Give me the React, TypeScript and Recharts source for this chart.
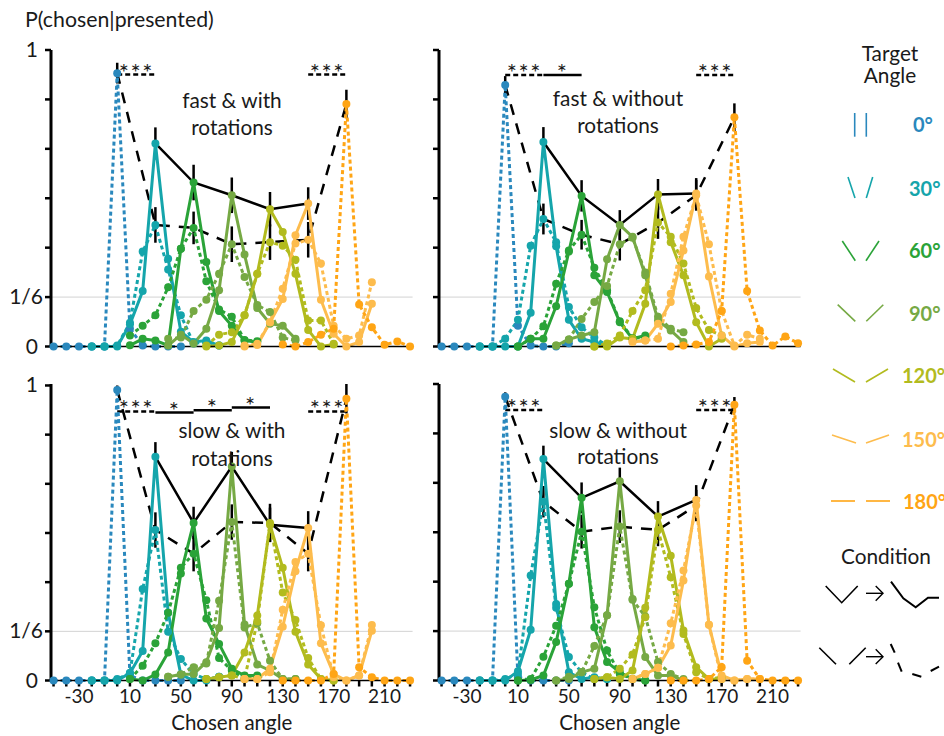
import React from "react";
import { ComposedChart, Line, XAxis, YAxis, ErrorBar, ReferenceLine } from "recharts";

const FONT = "Lato, 'Open Sans', sans-serif";
const targets = [0, 30, 60, 90, 120, 150, 180];
const colors: Record<number, string> = { 0: "#2a88bd", 30: "#15a5ab", 60: "#2aa338", 90: "#76a944", 120: "#b2bb1e", 150: "#fdbc4d", 180: "#ffa515" };
const xTicks = [-50,-40,-30,-20,-10,0,10,20,30,40,50,60,70,80,90,100,110,120,130,140,150,160,170,180,190,200,210,220,230];
const xLabels = [-30, 10, 50, 90, 130, 170, 210];
const yTicks = [0, 1/6, 2/6, 3/6, 4/6, 5/6, 1];

// Panel A: fast & with rotations (11 values per target, from target-50 to target+50)
const a0  = [0,0,0,0,0,.922,.06,.003,0,0,0];
const a30s = [0,0,0,.075,.187,.685,.296,.05,.015,.02,.003];
const a30d = [0,0,.003,.08,.32,.41,.26,.105,.01,.015,.003];
const a60s = [.004,.026,.02,.004,.33,.553,.285,.12,.07,.02,.015];
const a60d = [.037,.07,.105,.2,.33,.40,.22,.125,.1,.022,.018];
const a90s = [.003,.04,.01,.06,.19,.51,.31,.13,.077,.07,.026];
const a90d = [.026,.03,.12,.158,.245,.345,.234,.14,.116,.03,.02];
const a120s = [0,.003,.015,.105,.245,.463,.386,.245,.056,0,.007];
const a120d = [.003,.04,.048,.105,.245,.352,.34,.293,.088,.088,.009];
const a150s = [0,.005,.082,.16,.375,.482,.158,.043,0,.015,.144];
const a150d = [.003,.009,.082,.195,.347,.36,.28,.07,.026,.037,.217];
const a180 = [.007,0,.015,.04,.06,.818,.142,.065,.006,.017,0];
const aSolidErr = [.054,.06,.06,.058,.055];
const aDashErr = [.035,.06,.055,.06,.06,.06,.048];

// Panel B: fast & without rotations
const b0  = [0,0,0,0,0,.882,.07,.003,0,0,.011];
const b30s = [0,0,0,0,.114,.69,.338,.09,.026,.015,.003];
const b30d = [0,0,.026,.09,.34,.43,.352,.133,.065,.03,.003];
const b60s = [0,.026,.026,.136,.32,.508,.24,.184,.082,.026,.037];
const b60d = [0,.026,.068,.212,.324,.377,.266,.19,.085,.028,.03];
const b90s = [.003,.024,.037,.048,.294,.41,.37,.24,.088,.054,.015];
const b90d = [.003,.024,.093,.15,.204,.345,.367,.25,.1,.06,.048];
const b120s = [0,0,.03,.026,.144,.513,.352,.24,.082,0,.026];
const b120d = [0,.01,.037,.12,.19,.418,.37,.28,.13,.056,.037];
const b150s = [.015,.02,.077,.15,.324,.516,.236,.037,0,.011,.015];
const b150d = [.017,.02,.026,.178,.37,.51,.345,.12,.003,.04,.026];
const b180 = [0,.003,.007,.015,.12,.773,.187,.054,.003,.034,.011];
const bSolidErr = [.05,.053,.05,.052,.052];
const bDashErr = [.03,.052,.05,.055,.055,.052,.047];

// Panel C: slow & with rotations
const c0  = [0,0,0,0,0,.985,.017,0,0,0,0];
const c30s = [0,0,0,.025,.1,.758,.23,.02,0,0,.013];
const c30d = [0,0,.005,.025,.31,.51,.165,.073,.022,.005,.013];
const c60s = [.005,0,.02,.095,.363,.534,.21,.124,.04,.017,.017];
const c60d = [.005,.05,.126,.23,.382,.43,.272,.076,.034,.005,.011];
const c90s = [.013,.02,.022,.062,.178,.725,.19,.054,.034,.005,.005];
const c90d = [.013,.02,.045,.058,.27,.537,.18,.194,.067,.005,.005];
const c120s = [.005,.011,.017,.095,.22,.528,.382,.165,.054,.005,0];
const c120d = [.005,.011,.017,.005,.2,.534,.298,.205,.076,.005,0];
const c150s = [.005,.005,.04,.182,.37,.517,.126,.022,0,.017,.169];
const c150d = [.005,.005,.028,.24,.402,.43,.187,.011,0,.017,.188];
const c180 = [0,0,0,0,.022,.955,.045,.011,0,0,0];
const cSolidErr = [.05,.055,.05,.058,.057];
const cDashErr = [.015,.06,.06,.06,.065,.06,.05];

// Panel D: slow & without rotations
const d0  = [0,0,0,0,0,.957,.011,0,0,0,0];
const d30s = [0,0,0,.031,.171,.747,.258,.028,.005,.011,.005];
const d30d = [0,0,.005,.022,.354,.603,.245,.079,.028,.005,.005];
const d60s = [0,.002,.017,.13,.326,.616,.18,.062,.028,.005,0];
const d60d = [0,.005,.08,.185,.326,.502,.247,.101,.022,.005,0];
const d90s = [0,.005,.028,.04,.22,.672,.275,.079,.017,.017,0];
const d90d = [0,.013,.028,.116,.22,.519,.272,.216,.062,.022,.005];
const d120s = [.005,.011,.005,.034,.245,.553,.421,.169,.045,.005,.005];
const d120d = [.005,.011,.04,.088,.213,.508,.348,.157,.028,.005,.011];
const d150s = [.005,.022,.043,.118,.337,.609,.188,.017,0,.005,.005];
const d150d = [.005,.022,.043,.193,.371,.59,.188,.005,0,.005,.005];
const d180 = [0,0,0,.005,.045,.93,.067,.005,0,0,0];
const dSolidErr = [.045,.052,.046,.052,.05];
const dDashErr = [.015,.053,.057,.055,.055,.053,.026];

type Bar = { from: number; to: number; y: number; dashed: boolean; stars: string };
const aBars: Bar[] = [
  { from: 0, to: 30, y: .917, dashed: true, stars: "***" },
  { from: 150, to: 180, y: .917, dashed: true, stars: "***" },
];
const bBars: Bar[] = [
  { from: 0, to: 30, y: .916, dashed: true, stars: "***" },
  { from: 30, to: 60, y: .916, dashed: false, stars: "*" },
  { from: 150, to: 180, y: .916, dashed: true, stars: "***" },
];
const cBars: Bar[] = [
  { from: 0, to: 30, y: .912, dashed: true, stars: "***" },
  { from: 30, to: 60, y: .908, dashed: false, stars: "*" },
  { from: 60, to: 90, y: .916, dashed: false, stars: "*" },
  { from: 90, to: 120, y: .925, dashed: false, stars: "*" },
  { from: 150, to: 180, y: .912, dashed: true, stars: "***" },
];
const dBars: Bar[] = [
  { from: 0, to: 30, y: .912, dashed: true, stars: "***" },
  { from: 150, to: 180, y: .912, dashed: true, stars: "***" },
];

const rows = (center: number, vals: number[]) => vals.map((y, i) => ({ x: center - 50 + i * 10, y }));

type PanelData = { solid: number[][]; dash: number[][]; solidErr: number[]; dashErr: number[]; bars: Bar[]; showX: boolean; showYLabels: boolean; plotLeft: number; plotTop: number };

const panels: PanelData[] = [
  { solid: [a30s, a60s, a90s, a120s, a150s], dash: [a0, a30d, a60d, a90d, a120d, a150d, a180], solidErr: aSolidErr, dashErr: aDashErr, bars: aBars, showX: false, showYLabels: true, plotLeft: 51, plotTop: 50 },
  { solid: [b30s, b60s, b90s, b120s, b150s], dash: [b0, b30d, b60d, b90d, b120d, b150d, b180], solidErr: bSolidErr, dashErr: bDashErr, bars: bBars, showX: false, showYLabels: false, plotLeft: 438.5, plotTop: 50 },
  { solid: [c30s, c60s, c90s, c120s, c150s], dash: [c0, c30d, c60d, c90d, c120d, c150d, c180], solidErr: cSolidErr, dashErr: cDashErr, bars: cBars, showX: true, showYLabels: true, plotLeft: 51, plotTop: 383.5 },
  { solid: [d30s, d60s, d90s, d120s, d150s], dash: [d0, d30d, d60d, d90d, d120d, d150d, d180], solidErr: dSolidErr, dashErr: dDashErr, bars: dBars, showX: true, showYLabels: false, plotLeft: 438.5, plotTop: 383.5 },
];

const YTick = (props: any) => {
  const { x, y, payload, show } = props;
  const v = payload.value;
  const isSixth = Math.abs(v - 1 / 6) < 1e-6;
  const label = !show ? "" : v === 0 ? "0" : v === 1 ? "1" : isSixth ? "1/6" : "";
  if (!label) return null;
  return (
    <text x={isSixth ? x + 0 : x - 5} y={y + 7} textAnchor="end" fill="#1a1a1a" fontSize={21} fontFamily={FONT}>{label}</text>
  );
};

const Panel = ({ p }: { p: PanelData }) => {
  const solidTargets = [30, 60, 90, 120, 150];
  const blackSolid = solidTargets.map((t, i) => ({ x: t, y: p.solid[i][5], e: p.solidErr[i] }));
  const blackDash = targets.map((t, i) => ({ x: t, y: p.dash[i][5], e: p.dashErr[i] }));
  return (
    <div style={{ position: "absolute", left: p.plotLeft - 50, top: p.plotTop - 20 }}>
      <ComposedChart width={422} height={20 + 296.5 + 60} margin={{ top: 20, left: 0, right: 10.4, bottom: 0 }}>
        <XAxis
          dataKey="x" type="number" domain={[-52, 232]} ticks={xTicks} interval={0} height={60}
          axisLine={{ stroke: "#000", strokeWidth: 1.5 }}
          tickLine={p.showX ? { stroke: "#000", strokeWidth: 2.5 } : false}
          tickSize={6} tickMargin={3}
          tick={p.showX ? { fill: "#1a1a1a", fontSize: 19, fontFamily: FONT } : false}
          tickFormatter={(v: number) => (xLabels.includes(v) ? String(v) : "")}
          label={p.showX ? { value: "Chosen angle", position: "insideBottom", offset: 11, fill: "#1a1a1a", fontSize: 20.5, fontFamily: FONT } : undefined}
        />
        <YAxis
          type="number" domain={[0, 1]} ticks={yTicks} interval={0} width={50}
          axisLine={{ stroke: "#000", strokeWidth: 3 }}
          tickLine={{ stroke: "#000", strokeWidth: 2.5 }}
          tickSize={6} tickMargin={2}
          tick={<YTick show={p.showYLabels} />}
        />
        <ReferenceLine y={1 / 6} stroke="#d2d2d2" strokeWidth={1} />
        {p.bars.map((b, i) => (
          <ReferenceLine
            key={"bar" + i}
            segment={[{ x: b.from, y: b.y }, { x: b.to, y: b.y }]}
            stroke="#000" strokeWidth={2.5} strokeDasharray={b.dashed ? "5 3" : undefined}
            label={{ value: b.stars, position: "top", offset: -6, fill: "#1a1a1a", fontSize: 24, fontFamily: FONT, letterSpacing: 1.5 }}
          />
        ))}
        <Line data={blackDash} dataKey="y" name="dash-mean" stroke="#000" strokeWidth={2.5} strokeDasharray="11 9" dot={false} isAnimationActive={false}>
          <ErrorBar dataKey="e" width={0} stroke="#000" strokeWidth={2.5} direction="y" isAnimationActive={false} />
        </Line>
        <Line data={blackSolid} dataKey="y" name="solid-mean" stroke="#000" strokeWidth={2.5} dot={false} isAnimationActive={false}>
          <ErrorBar dataKey="e" width={0} stroke="#000" strokeWidth={2.5} direction="y" isAnimationActive={false} />
        </Line>
        {targets.flatMap((t, ti) => {
          const c = colors[t];
          const si = solidTargets.indexOf(t);
          const out = [
            <Line key={"d" + t} data={rows(t, p.dash[ti])} dataKey="y" name={"d" + t} stroke={c} strokeWidth={3} strokeDasharray="4 3"
              dot={{ r: 4, fill: c, stroke: "none" }} isAnimationActive={false} />,
          ];
          if (si >= 0) {
            out.push(
              <Line key={"s" + t} data={rows(t, p.solid[si])} dataKey="y" name={"s" + t} stroke={c} strokeWidth={3}
                dot={{ r: 4, fill: c, stroke: "none" }} isAnimationActive={false} />
            );
          }
          return out;
        })}
      </ComposedChart>
    </div>
  );
};

const titleStyle = { fontFamily: FONT, fontSize: 20.8, fill: "#1a1a1a", textAnchor: "middle" as const };
const titles = [
  { x: 232, y: 108, lines: ["fast & with", "rotations"], gap: 27 },
  { x: 618, y: 106, lines: ["fast & without", "rotations"], gap: 27 },
  { x: 232, y: 438, lines: ["slow & with", "rotations"], gap: 28 },
  { x: 618, y: 438, lines: ["slow & without", "rotations"], gap: 26 },
];

const legendRows = [
  { t: 0, label: "0°", y: 132, tx: 913, l: [854.7, 113, 854.7, 136.7], r: [866.3, 113, 866.3, 136.7] },
  { t: 30, label: "30°", y: 196, tx: 909, l: [848, 177, 855, 198], r: [872.7, 177, 866.3, 198] },
  { t: 60, label: "60°", y: 258, tx: 909, l: [842.3, 241, 855.3, 260.7], r: [879, 241, 866, 260.7] },
  { t: 90, label: "90°", y: 321, tx: 909, l: [837.7, 304.7, 855.3, 321.3], r: [883.3, 304.7, 866.3, 321.3] },
  { t: 120, label: "120°", y: 383, tx: 902, l: [833, 369, 855, 382], r: [888, 369, 866, 382] },
  { t: 150, label: "150°", y: 447, tx: 902, l: [832, 435, 856, 443], r: [889, 435, 866, 443] },
  { t: 180, label: "180°", y: 509, tx: 903, l: [831, 501, 855, 501], r: [866, 501, 890, 501] },
];

const Seg = ({ s, c, w = 1.6 }: { s: number[]; c: string; w?: number }) => (
  <line x1={s[0]} y1={s[1]} x2={s[2]} y2={s[3]} stroke={c} strokeWidth={w} />
);

const Overlay = () => (
  <svg width={944} height={736} style={{ position: "absolute", left: 0, top: 0, pointerEvents: "none" }}>
    <text x={25} y={27} style={{ fontFamily: FONT, fontSize: 21.3, fill: "#1a1a1a" }}>P(chosen|presented)</text>
    {titles.map((t, i) => t.lines.map((s, j) => (
      <text key={i + "-" + j} x={t.x} y={t.y + j * t.gap} style={titleStyle}>{s}</text>
    )))}
    <text x={890} y={61} style={titleStyle}>Target</text>
    <text x={890} y={83} style={titleStyle}>Angle</text>
    {legendRows.map((r) => (
      <g key={r.t}>
        <Seg s={r.l} c={colors[r.t]} />
        <Seg s={r.r} c={colors[r.t]} />
        <text x={r.tx} y={r.y} style={{ fontFamily: FONT, fontSize: 20, fontWeight: 700, fill: colors[r.t] }}>{r.label}</text>
      </g>
    ))}
    <text x={886} y={564} style={titleStyle}>Condition</text>
    <polyline points="825.7,586 841.7,602.7 857.7,586" fill="none" stroke="#000" strokeWidth={1.6} />
    <polyline points="866,593.3 883,593.3" fill="none" stroke="#000" strokeWidth={1.4} />
    <polyline points="875.7,586 883,593.3 875.7,600.7" fill="none" stroke="#000" strokeWidth={1.4} />
    <polyline points="891,581.7 903.3,598.3 915.7,607.3 928,597.7 939,597.7" fill="none" stroke="#000" strokeWidth={2} />
    <Seg s={[819.3, 647.7, 836, 664.3]} c="#000" />
    <Seg s={[865.7, 647.7, 849.3, 664.3]} c="#000" />
    <polyline points="866,656.7 883,656.7" fill="none" stroke="#000" strokeWidth={1.4} />
    <polyline points="875.7,649.3 883,656.7 875.7,664" fill="none" stroke="#000" strokeWidth={1.4} />
    <Seg s={[890.7, 644, 894.7, 652.7]} c="#000" w={2} />
    <Seg s={[898, 662.7, 901.7, 671.7]} c="#000" w={2} />
    <Seg s={[912.3, 674, 921.3, 676.7]} c="#000" w={2} />
    <Seg s={[930.7, 671, 939, 666.7]} c="#000" w={2} />
  </svg>
);

export default function App() {
  return (
    <div style={{ position: "absolute", left: 0, top: 0, width: 944, height: 736, background: "#fff", overflow: "hidden" }}>
      {panels.map((p, i) => <Panel key={i} p={p} />)}
      <Overlay />
    </div>
  );
}
